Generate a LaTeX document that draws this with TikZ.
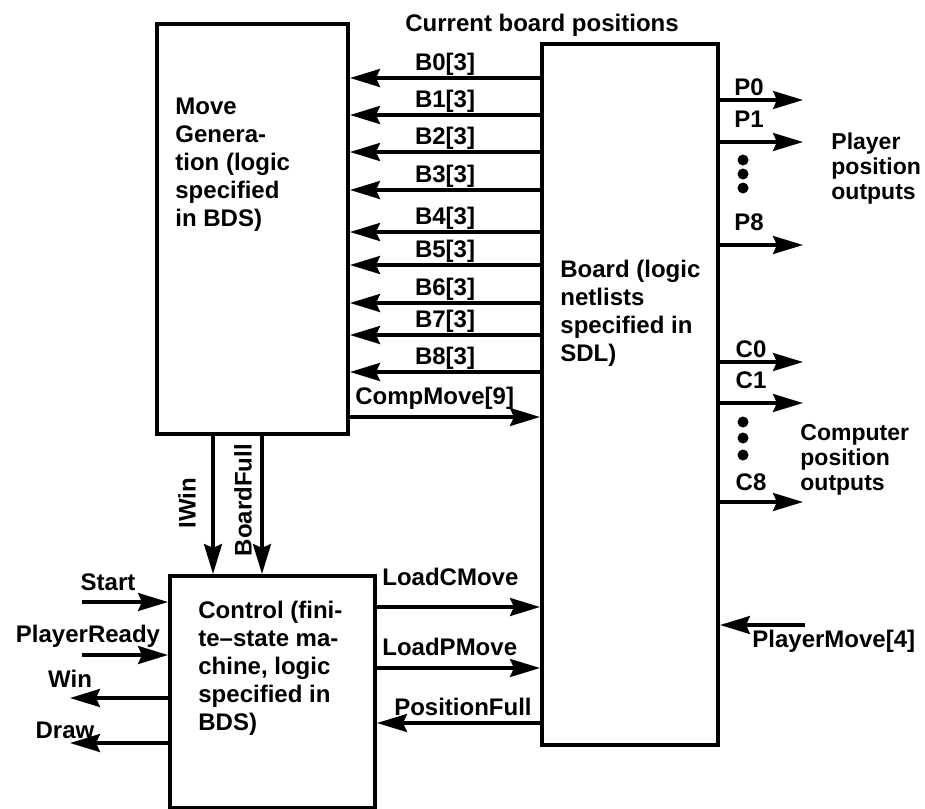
\documentclass[tikz,border=0pt]{standalone}
\usepackage{fontspec}
\setmainfont{Liberation Sans}
\usetikzlibrary{arrows.meta, positioning}
\begin{document}
\begin{tikzpicture}[x=0.5pt, y=-0.5pt,
    font=\bfseries\fontsize{12}{14}\selectfont,
    box/.style={draw, line width=2pt, inner sep=0pt, anchor=north west},
    sig/.style={line width=1.6pt, -{Stealth[length=15pt, width=9pt, inset=2pt]}},
    lbl/.style={inner sep=0pt, anchor=base},
    desc/.style={inner sep=0pt, anchor=north west, align=left},
    outs/.style={desc, font=\bfseries\fontsize{11.5}{12.5}\selectfont},
    bullet/.style={circle, fill, inner sep=0pt, minimum size=5.5pt}]
  \useasboundingbox (0,0) rectangle (925,808);
  \node[box, minimum width=95.5pt, minimum height=205pt] (mg) at (155,22) {};
  \node[box, minimum width=88pt, minimum height=350.5pt] (board) at (540,42) {};
  \node[box, minimum width=102.5pt, minimum height=116pt] (ctl) at (168,574) {};
  \node[desc] (mgtxt) at (175,98) {Move\\Genera-\\tion (logic\\specified\\in BDS)};
  \node[desc] (boardtxt) at (560,260) {Board (logic\\netlists\\specified in\\SDL)};
  \node[desc] (ctltxt) at (198,601) {Control (fini-\\te--state ma-\\chine, logic\\specified in\\BDS)};
  \node[lbl] (title) at (542,32) {Current board positions};
  \foreach \i/\y in {0/78,1/115,2/152,3/190,4/232,5/265,6/303,7/335,8/372}
    \draw[sig] (board.west |- 0,\y) -- node[above=0.5pt, inner sep=0pt] (b\i) {B\i[3]} (mg.east |- 0,\y);
  \draw[sig] (mg.east |- 0,417) -- (board.west |- 0,417);
  \node[lbl, anchor=base west] (cmove) at (355,404) {CompMove[9]};
  \foreach \i/\y/\t in {0/100/96,1/142/127,8/245/230} {
    \coordinate (p\i) at (803,\y);
    \draw[sig] (board.east |- p\i) -- (p\i);
    \node[lbl] (pl\i) at (749,\t) {P\i};
  }
  \foreach \i/\y/\t in {0/362/357,1/403/388,8/502/490} {
    \coordinate (c\i) at (803,\y);
    \draw[sig] (board.east |- c\i) -- (c\i);
    \node[lbl] (cl\i) at (751,\t) {C\i};
  }
  \foreach \y [count=\k] in {160,174,188} \node[bullet] (pd\k) at (743,\y) {};
  \foreach \y [count=\k] in {422,438,455} \node[bullet] (cd\k) at (743,\y) {};
  \node[outs] (pout) at (831,132) {Player\\position\\outputs};
  \node[outs] (cout) at (800,424) {Computer\\position\\outputs};
  \draw[sig] (mg.south -| 213,0) -- (ctl.north -| 213,0);
  \draw[sig] (mg.south -| 262,0) -- (ctl.north -| 262,0);
  \node[rotate=90, inner sep=0pt] (iwin) at (187,503) {IWin};
  \node[rotate=90, inner sep=0pt] (bfull) at (243,500) {BoardFull};
  \coordinate (start) at (82,602);
  \coordinate (pready) at (82,655);
  \coordinate (win) at (70,698);
  \coordinate (drw) at (70,743);
  \draw[sig] (start) -- (ctl.west |- start);
  \draw[sig] (pready) -- (ctl.west |- pready);
  \draw[sig] (ctl.west |- win) -- (win);
  \draw[sig] (ctl.west |- drw) -- (drw);
  \node[lbl] (startl) at (108,590) {Start};
  \node[lbl] (preadyl) at (88,642) {PlayerReady};
  \node[lbl] (winl) at (70,687) {Win};
  \node[lbl] (drwl) at (65,738) {Draw};
  \draw[sig] (ctl.east |- 0,607) -- (board.west |- 0,607);
  \draw[sig] (ctl.east |- 0,668) -- (board.west |- 0,668);
  \draw[sig] (board.west |- 0,723) -- (ctl.east |- 0,723);
  \node[lbl, anchor=base west] (lcm) at (382,585) {LoadCMove};
  \node[lbl, anchor=base west] (lpm) at (382,655) {LoadPMove};
  \node[lbl, anchor=base east] (pfull) at (532,715) {PositionFull};
  \coordinate (pmove) at (805,625);
  \draw[sig] (pmove) -- (board.east |- pmove);
  \node[lbl, anchor=base west] (pmovel) at (752,647) {PlayerMove[4]};
\end{tikzpicture}
\end{document}
